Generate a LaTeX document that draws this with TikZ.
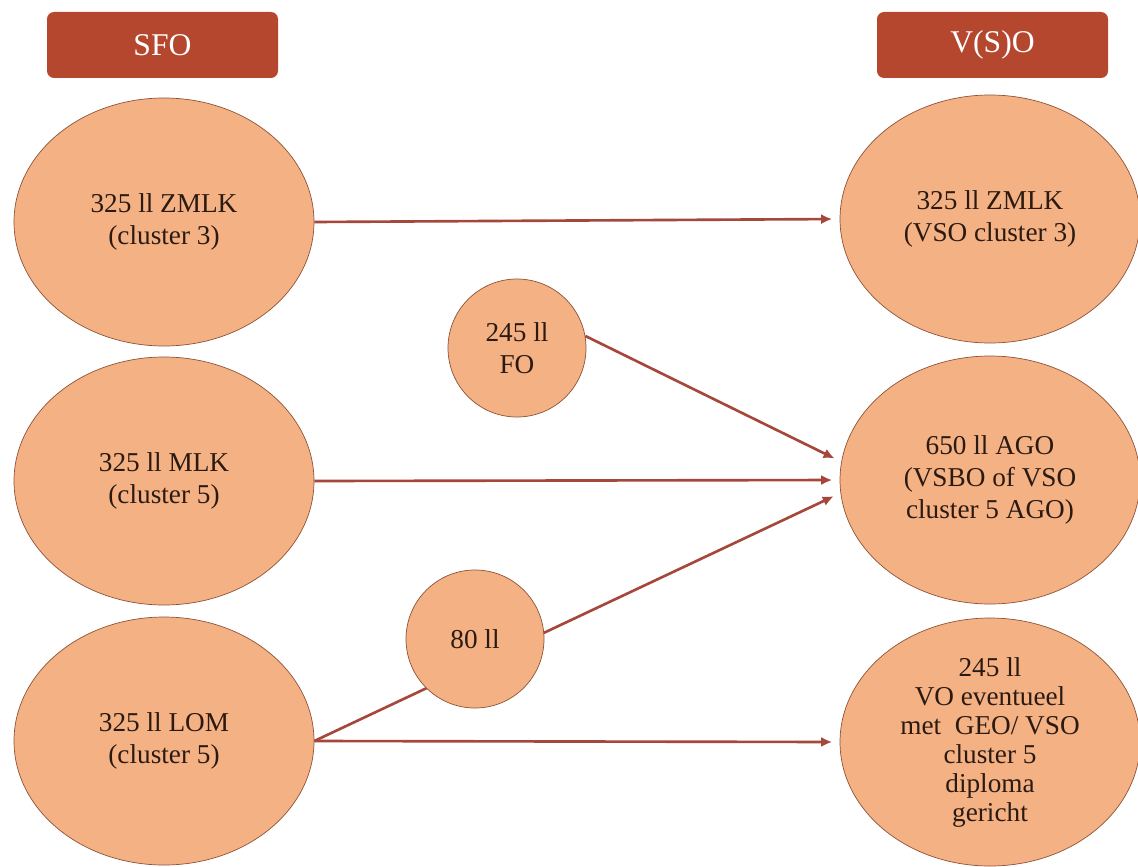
\documentclass[tikz,border=0pt]{standalone}
\usepackage{fontspec}
\setmainfont{Liberation Serif}
\usetikzlibrary{arrows.meta, shapes.geometric, backgrounds}

\definecolor{kopbruin}{HTML}{B4472D}
\definecolor{perzik}{HTML}{F4B183}
\definecolor{randbruin}{HTML}{8F5238}
\definecolor{pijlrood}{HTML}{A5473A}
\definecolor{tekstbruin}{HTML}{2B1A12}

\begin{document}
\begin{tikzpicture}[
        kop/.style={rectangle, fill=kopbruin, text=white, rounded corners=4pt, minimum width=4.62cm, minimum height=1.32cm, font=\fontsize{18}{20}\selectfont},
        groep/.style={ellipse, draw=randbruin, fill=perzik, thin, minimum width=6.0cm, minimum height=4.96cm, inner sep=0pt, align=center, text=tekstbruin, font=\fontsize{15.5}{18}\selectfont},
        stroom/.style={circle, draw=randbruin, fill=perzik, thin, minimum size=2.76cm, inner sep=0pt, align=center, text=tekstbruin, font=\fontsize{15.5}{18}\selectfont},
        pijl/.style={draw=pijlrood, line width=1.5pt, -{Latex[length=2.2mm, width=2mm]}, shorten >=1.5mm}
    ]
        \useasboundingbox (0,0) rectangle (22.76,-17.32);

        % Koppen
        \node [kop] (sfo) at (3.25,-0.9) {SFO};
        \node [kop] (vso) at (19.85,-0.9) {V(S)O};

        % Kolom links: SFO (x = 3.28)
        \node [groep] (zmlk) at (3.28,-4.44) {325 ll ZMLK\\(cluster 3)};
        \node [groep] (mlk) at (3.28,-9.62) {325 ll MLK\\(cluster 5)};
        \node [groep] (lom) at (3.28,-14.82) {325 ll LOM\\(cluster 5)};

        % Kolom rechts: V(S)O (x = 19.8)
        \node [groep] (vzmlk) at (19.8,-4.38) {325 ll ZMLK\\(VSO cluster 3)};
        \node [groep] (ago) at (19.8,-9.6) {650 ll AGO\\(VSBO of VSO\\cluster 5 AGO)};
        \node [groep, font=\fontsize{15.5}{16.5}\selectfont] (dipl) at (19.8,-14.84) {245 ll\\VO eventueel\\met~ GEO/ VSO\\cluster 5\\diploma\\gericht};

        % Tussenstromen
        \node [stroom] (fo) at (10.34,-6.96) {245 ll\\FO};
        \node [stroom] (tachtig) at (9.5,-12.78) {80 ll};

        % Pijlen
        \draw [pijl] (zmlk.east) -- (vzmlk.west);
        \draw [pijl] (fo.10) -- (ago.173);
        \draw [pijl] (mlk.east) -- (ago.west);
        \draw [pijl] (lom.east) -- (dipl.west);
        \begin{scope}[on background layer]
            \draw [pijl] (lom.east) -- (ago.185);
        \end{scope}

    \end{tikzpicture}
\end{document}
